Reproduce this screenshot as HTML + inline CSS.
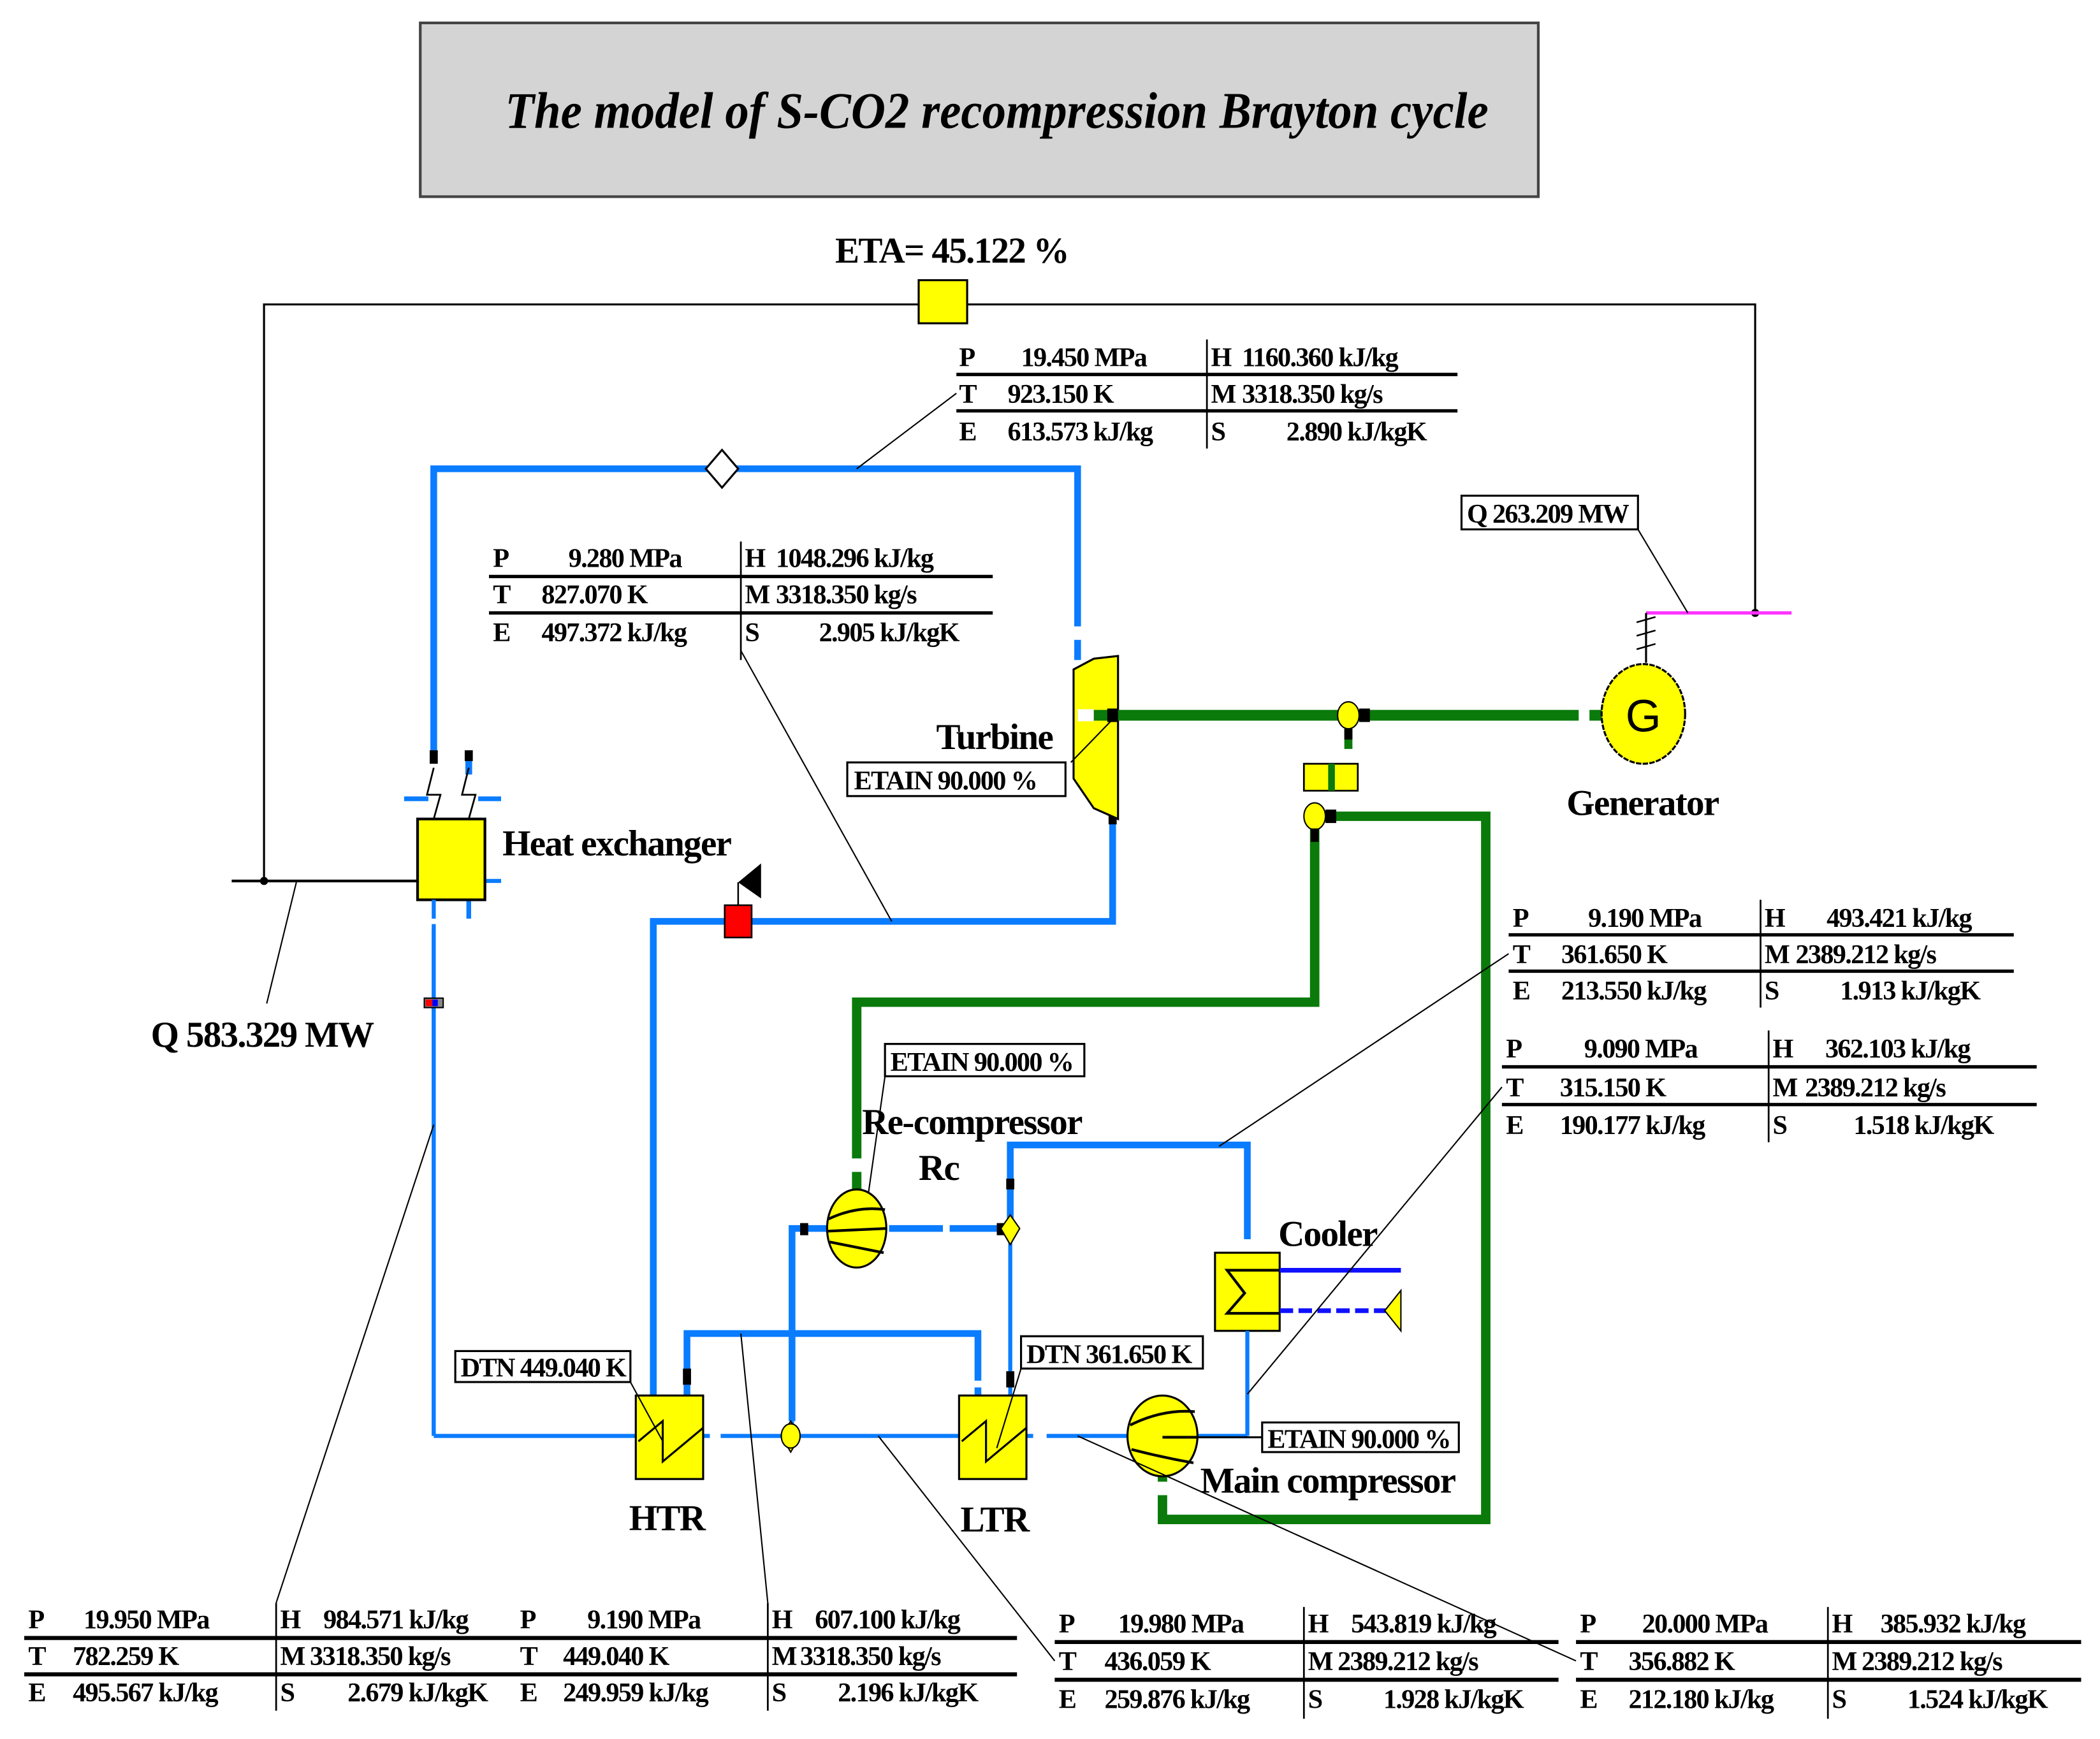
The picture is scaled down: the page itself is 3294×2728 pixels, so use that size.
<!DOCTYPE html>
<html><head><meta charset="utf-8"><style>
html,body{margin:0;padding:0;background:#fff;}
svg{display:block;}
text{font-family:"Liberation Serif",serif;font-weight:bold;fill:#000;}
.t{font-size:20px;letter-spacing:-0.8px;}
.l{font-size:27px;letter-spacing:-0.8px;}
</style></head><body>
<svg width="3294" height="2728" viewBox="0 0 1559 1291" preserveAspectRatio="none" xmlns="http://www.w3.org/2000/svg">
<rect x="0" y="0" width="1559" height="1291" fill="#fff"/>
<!-- title -->
<rect x="312" y="17" width="830" height="129" fill="#d4d4d4" stroke="#444" stroke-width="2"/>
<text x="375" y="95" font-size="38" font-style="italic" textLength="730" lengthAdjust="spacingAndGlyphs">The model of S-CO2 recompression Brayton cycle</text>

<!-- ETA -->
<text x="620" y="195" class="l" font-size="25">ETA= 45.122 %</text>
<polyline points="196,654 196,226 1303,226 1303,455" fill="none" stroke="#000" stroke-width="1.5"/>
<rect x="682" y="208" width="36" height="32" fill="#ffff00" stroke="#000" stroke-width="1.5"/>
<circle cx="196" cy="654" r="3" fill="#000"/>
<circle cx="1303" cy="455" r="3" fill="#000"/>

<!-- magenta -->
<line x1="1222" y1="455" x2="1330" y2="455" stroke="#ff33ff" stroke-width="2.5"/>
<line x1="1222" y1="455" x2="1222" y2="492" stroke="#000" stroke-width="1.5"/>
<path d="M1215,462 l14,-4 M1215,472 l14,-4 M1215,482 l14,-4" stroke="#000" stroke-width="1.2"/>
<rect x="1085" y="368" width="131" height="25" fill="#fff" stroke="#000" stroke-width="1.5"/>
<text x="1089" y="388" class="t">Q 263.209 MW</text>
<line x1="1216" y1="393" x2="1253" y2="455" stroke="#000" stroke-width="1"/>

<!-- blue top loop -->
<g fill="none" stroke="#0a7cff" stroke-width="5">
<polyline points="322,560 322,348 800,348 800,465"/>
<line x1="800" y1="475" x2="800" y2="490"/>
<polyline points="826,608 826,684 485,684 485,1036"/>
<line x1="348" y1="560" x2="348" y2="575"/>
<line x1="300" y1="593" x2="318" y2="593" stroke-width="3.5"/>
<line x1="355" y1="593" x2="372" y2="593" stroke-width="3.5"/>
<line x1="348" y1="668" x2="348" y2="682" stroke-width="3.5"/>
<line x1="360" y1="654" x2="372" y2="654" stroke-width="3"/>
</g>
<rect x="319" y="557" width="6" height="10" fill="#000"/>
<rect x="345" y="557" width="6" height="8" fill="#000"/>
<rect x="823" y="600" width="6" height="12" fill="#000"/>
<polygon points="536,334 548,348 536,362 524,348" fill="#fff" stroke="#000" stroke-width="1.5"/>
<!-- zigzags -->
<path d="M322,570 L317,590 L327,590 L322,608 M348,570 L343,590 L353,590 L348,608" fill="none" stroke="#000" stroke-width="1.3"/>

<!-- heat exchanger -->
<line x1="172" y1="654" x2="310" y2="654" stroke="#000" stroke-width="2"/>
<rect x="310" y="608" width="50" height="60" fill="#ffff00" stroke="#000" stroke-width="2"/>
<text x="373" y="635" class="l">Heat exchanger</text>
<line x1="220" y1="655" x2="198" y2="745" stroke="#000" stroke-width="1"/>
<text x="112" y="777" class="l" font-size="26">Q 583.329 MW</text>
<line x1="322" y1="668" x2="322" y2="1066" stroke="#0a7cff" stroke-width="3" stroke-dasharray="14,4,380"/>
<line x1="322" y1="690" x2="322" y2="1066" stroke="#0a7cff" stroke-width="3"/>
<rect x="315" y="741" width="14" height="7" fill="#888" stroke="#000" stroke-width="1"/>
<rect x="316" y="742" width="5" height="5" fill="#f00"/>
<rect x="321" y="742" width="4" height="5" fill="#00f"/>
<line x1="322" y1="835" x2="205" y2="1190" stroke="#000" stroke-width="1"/>

<!-- table 1 -->
<g class="t">
<text x="712" y="272">P</text><text x="758" y="272">19.450 MPa</text>
<text x="899" y="272">H</text><text x="922" y="272">1160.360 kJ/kg</text>
<text x="712" y="299">T</text><text x="748" y="299">923.150 K</text>
<text x="899" y="299">M</text><text x="922" y="299">3318.350 kg/s</text>
<text x="712" y="327">E</text><text x="748" y="327">613.573 kJ/kg</text>
<text x="899" y="327">S</text><text x="955" y="327">2.890 kJ/kgK</text>
</g>
<g stroke="#000"><line x1="710" y1="278" x2="1082" y2="278" stroke-width="2.5"/><line x1="710" y1="305" x2="1082" y2="305" stroke-width="2.5"/><line x1="896" y1="252" x2="896" y2="333" stroke-width="1.3"/>
<line x1="710" y1="292" x2="636" y2="348" stroke-width="1"/></g>

<!-- table 2 -->
<g class="t">
<text x="366" y="421">P</text><text x="422" y="421">9.280 MPa</text>
<text x="553" y="421">H</text><text x="576" y="421">1048.296 kJ/kg</text>
<text x="366" y="448">T</text><text x="402" y="448">827.070 K</text>
<text x="553" y="448">M</text><text x="576" y="448">3318.350 kg/s</text>
<text x="366" y="476">E</text><text x="402" y="476">497.372 kJ/kg</text>
<text x="553" y="476">S</text><text x="608" y="476">2.905 kJ/kgK</text>
</g>
<g stroke="#000"><line x1="363" y1="428" x2="737" y2="428" stroke-width="2.5"/><line x1="363" y1="455" x2="737" y2="455" stroke-width="2.5"/><line x1="550" y1="402" x2="550" y2="490" stroke-width="1.3"/>
<line x1="550" y1="483" x2="662" y2="684" stroke-width="1"/></g>

<!-- red valve -->
<rect x="538" y="672" width="20" height="24" fill="#f00" stroke="#000" stroke-width="1.2"/>
<line x1="548" y1="672" x2="548" y2="655" stroke="#000" stroke-width="1.2"/>
<polygon points="548,655 565,641 565,667" fill="#000"/>

<!-- turbine -->
<polygon points="797,497 812,489 830,487 830,608 812,600 797,578" fill="#ffff00" stroke="#000" stroke-width="1.5"/>
<line x1="800" y1="531" x2="1172" y2="531" stroke="#0a7a0a" stroke-width="8"/>
<line x1="800" y1="531" x2="812" y2="531" stroke="#fff" stroke-width="9"/>
<rect x="822" y="526" width="8" height="10" fill="#000"/>
<line x1="826" y1="534" x2="795" y2="566" stroke="#000" stroke-width="1"/>
<text x="695" y="556" class="l">Turbine</text>
<rect x="629" y="566" width="162" height="25" fill="#fff" stroke="#000" stroke-width="1.5"/>
<text x="634" y="586" class="t">ETAIN 90.000 %</text>
<line x1="1180" y1="531" x2="1190" y2="531" stroke="#0a7a0a" stroke-width="8"/>
<ellipse cx="1001" cy="531" rx="8" ry="10" fill="#ffff00" stroke="#000" stroke-width="1"/>
<rect x="1009" y="526" width="8" height="10" fill="#000"/>
<line x1="1001" y1="541" x2="1001" y2="556" stroke="#0a7a0a" stroke-width="6"/>
<rect x="998" y="541" width="6" height="8" fill="#000"/>

<!-- generator -->
<ellipse cx="1220" cy="530" rx="31" ry="37" fill="#ffff00" stroke="#000" stroke-width="1.5" stroke-dasharray="4,1"/>
<text x="1220" y="543" text-anchor="middle" font-size="34" style="font-family:'Liberation Sans',sans-serif;font-weight:normal">G</text>
<text x="1163" y="605" class="l">Generator</text>

<!-- coupling box -->
<rect x="968" y="567" width="40" height="20" fill="#ffff00" stroke="#000" stroke-width="1.3"/>
<rect x="986" y="567" width="5" height="20" fill="#0a7a0a"/>

<!-- green lines -->
<g fill="none" stroke="#0a7a0a" stroke-width="7">
<polyline points="976,606 976,744 636,744 636,860"/>
<line x1="636" y1="870" x2="636" y2="885"/>
<polyline points="976,606 1103,606 1103,1128 863,1128 863,1110"/>
<line x1="863" y1="1090" x2="863" y2="1100"/>
</g>
<ellipse cx="976" cy="606" rx="8" ry="10" fill="#ffff00" stroke="#000" stroke-width="1"/>
<rect x="984" y="601" width="8" height="10" fill="#000"/>
<rect x="973" y="615" width="6" height="10" fill="#000"/>

<!-- recompressor -->
<rect x="657" y="775" width="148" height="24" fill="#fff" stroke="#000" stroke-width="1.5"/>
<text x="661" y="795" class="t">ETAIN 90.000 %</text>
<line x1="657" y1="799" x2="641" y2="912" stroke="#000" stroke-width="1"/>
<text x="640" y="842" class="l">Re-compressor</text>
<text x="682" y="876" class="l">Rc</text>

<g fill="none" stroke="#0a7cff" stroke-width="5">
<polyline points="588,1055 588,912 614,912"/>
<line x1="660" y1="912" x2="700" y2="912"/>
<line x1="705" y1="912" x2="745" y2="912"/>
<polyline points="750,905 750,850 926,850 926,920"/>
<polyline points="510,1036 510,990 726,990 726,1025"/>
<line x1="726" y1="1030" x2="726" y2="1036"/>
</g>
<line x1="750" y1="920" x2="750" y2="1036" stroke="#0a7cff" stroke-width="3"/>
<line x1="588" y1="1055" x2="588" y2="1066" stroke="#0a7cff" stroke-width="3"/>
<rect x="594" y="908" width="6" height="9" fill="#000"/>
<rect x="740" y="908" width="6" height="9" fill="#000"/>
<rect x="747" y="1018" width="6" height="12" fill="#000"/>
<rect x="507" y="1016" width="6" height="12" fill="#000"/>
<rect x="747" y="875" width="6" height="8" fill="#000"/>
<polygon points="750,902 757,912 750,924 743,912" fill="#ffff00" stroke="#000" stroke-width="1"/>
<ellipse cx="636" cy="912" rx="22" ry="29" fill="#ffff00" stroke="#000" stroke-width="1.5"/>
<path d="M615,905 Q636,895 657,898 M614,914 L658,912 M616,922 Q636,926 656,930" fill="none" stroke="#000" stroke-width="2"/>

<!-- cooler -->
<rect x="902" y="930" width="48" height="58" fill="#ffff00" stroke="#000" stroke-width="1.5"/>
<path d="M950,943 L911,943 L924,960 L911,975 L950,975" fill="none" stroke="#000" stroke-width="2"/>
<line x1="950" y1="943" x2="1040" y2="943" stroke="#1010ff" stroke-width="3.5"/>
<line x1="950" y1="973" x2="1030" y2="973" stroke="#1010ff" stroke-width="3.5" stroke-dasharray="10,4"/>
<polygon points="1028,973 1040,958 1040,988" fill="#ffff00" stroke="#000" stroke-width="1"/>
<text x="949" y="925" class="l">Cooler</text>
<line x1="926" y1="988" x2="926" y2="1066" stroke="#0a7cff" stroke-width="3"/>

<!-- bottom line -->
<line x1="322" y1="1066" x2="926" y2="1066" stroke="#0a7cff" stroke-width="3"/>
<line x1="527" y1="1066" x2="535" y2="1066" stroke="#fff" stroke-width="4"/>
<line x1="767" y1="1066" x2="777" y2="1066" stroke="#fff" stroke-width="4"/>
<polygon points="587,1055 594,1066 587,1078 580,1066" fill="#ffff00" stroke="#000" stroke-width="1"/>
<ellipse cx="587" cy="1066" rx="7" ry="9" fill="#ffff00" stroke="#000" stroke-width="1"/>

<!-- HTR -->
<rect x="472" y="1036" width="50" height="62" fill="#ffff00" stroke="#000" stroke-width="1.5"/>
<path d="M474,1070 L492,1055 L492,1085 L522,1060" fill="none" stroke="#000" stroke-width="1.5"/>
<text x="467" y="1136" class="l">HTR</text>
<rect x="338" y="1003" width="130" height="23" fill="#fff" stroke="#000" stroke-width="1.5"/>
<text x="342" y="1022" class="t">DTN 449.040 K</text>
<line x1="468" y1="1026" x2="492" y2="1070" stroke="#000" stroke-width="1"/>
<!-- LTR -->
<rect x="712" y="1036" width="50" height="62" fill="#ffff00" stroke="#000" stroke-width="1.5"/>
<path d="M714,1070 L732,1055 L732,1085 L762,1060" fill="none" stroke="#000" stroke-width="1.5"/>
<text x="713" y="1137" class="l">LTR</text>
<rect x="758" y="992" width="135" height="24" fill="#fff" stroke="#000" stroke-width="1.5"/>
<text x="762" y="1012" class="t">DTN 361.650 K</text>
<line x1="758" y1="1016" x2="740" y2="1075" stroke="#000" stroke-width="1"/>

<!-- main compressor -->
<ellipse cx="863" cy="1066" rx="26" ry="30" fill="#ffff00" stroke="#000" stroke-width="1.5"/>
<path d="M839,1058 Q863,1046 887,1048 M863,1067 L889,1067 M840,1076 Q863,1082 886,1086" fill="none" stroke="#000" stroke-width="2"/>
<line x1="889" y1="1067" x2="937" y2="1067" stroke="#000" stroke-width="1.5"/>
<rect x="937" y="1056" width="146" height="22" fill="#fff" stroke="#000" stroke-width="1.5"/>
<text x="941" y="1075" class="t">ETAIN 90.000 %</text>
<text x="891" y="1108" class="l">Main compressor</text>

<!-- right tables -->
<g class="t">
<text x="1123" y="688">P</text><text x="1179" y="688">9.190 MPa</text>
<text x="1310" y="688">H</text><text x="1356" y="688">493.421 kJ/kg</text>
<text x="1123" y="715">T</text><text x="1159" y="715">361.650 K</text>
<text x="1310" y="715">M</text><text x="1333" y="715">2389.212 kg/s</text>
<text x="1123" y="742">E</text><text x="1159" y="742">213.550 kJ/kg</text>
<text x="1310" y="742">S</text><text x="1366" y="742">1.913 kJ/kgK</text>

<text x="1118" y="785">P</text><text x="1176" y="785">9.090 MPa</text>
<text x="1316" y="785">H</text><text x="1355" y="785">362.103 kJ/kg</text>
<text x="1118" y="814">T</text><text x="1158" y="814">315.150 K</text>
<text x="1316" y="814">M</text><text x="1340" y="814">2389.212 kg/s</text>
<text x="1118" y="842">E</text><text x="1158" y="842">190.177 kJ/kg</text>
<text x="1316" y="842">S</text><text x="1376" y="842">1.518 kJ/kgK</text>
</g>
<g stroke="#000">
<line x1="1120" y1="694" x2="1495" y2="694" stroke-width="2.5"/><line x1="1120" y1="721" x2="1495" y2="721" stroke-width="2.5"/><line x1="1307" y1="668" x2="1307" y2="748" stroke-width="1.3"/>
<line x1="1120" y1="708" x2="905" y2="851" stroke-width="1"/>
<line x1="1115" y1="792" x2="1512" y2="792" stroke-width="2.5"/><line x1="1115" y1="820" x2="1512" y2="820" stroke-width="2.5"/><line x1="1313" y1="765" x2="1313" y2="848" stroke-width="1.3"/>
<line x1="1115" y1="807" x2="926" y2="1035" stroke-width="1"/>
</g>

<!-- bottom tables -->
<g class="t" font-size="19">
<text x="21" y="1209">P</text><text x="62" y="1209">19.950 MPa</text>
<text x="208" y="1209">H</text><text x="240" y="1209">984.571 kJ/kg</text>
<text x="21" y="1236">T</text><text x="54" y="1236">782.259 K</text>
<text x="208" y="1236">M</text><text x="230" y="1236">3318.350 kg/s</text>
<text x="21" y="1263">E</text><text x="54" y="1263">495.567 kJ/kg</text>
<text x="208" y="1263">S</text><text x="258" y="1263">2.679 kJ/kgK</text>

<text x="386" y="1209">P</text><text x="436" y="1209">9.190 MPa</text>
<text x="573" y="1209">H</text><text x="605" y="1209">607.100 kJ/kg</text>
<text x="386" y="1236">T</text><text x="418" y="1236">449.040 K</text>
<text x="573" y="1236">M</text><text x="594" y="1236">3318.350 kg/s</text>
<text x="386" y="1263">E</text><text x="418" y="1263">249.959 kJ/kg</text>
<text x="573" y="1263">S</text><text x="622" y="1263">2.196 kJ/kgK</text>

<text x="786" y="1212">P</text><text x="830" y="1212">19.980 MPa</text>
<text x="971" y="1212">H</text><text x="1003" y="1212">543.819 kJ/kg</text>
<text x="786" y="1240">T</text><text x="820" y="1240">436.059 K</text>
<text x="971" y="1240">M</text><text x="993" y="1240">2389.212 kg/s</text>
<text x="786" y="1268">E</text><text x="820" y="1268">259.876 kJ/kg</text>
<text x="971" y="1268">S</text><text x="1027" y="1268">1.928 kJ/kgK</text>

<text x="1173" y="1212">P</text><text x="1219" y="1212">20.000 MPa</text>
<text x="1360" y="1212">H</text><text x="1396" y="1212">385.932 kJ/kg</text>
<text x="1173" y="1240">T</text><text x="1209" y="1240">356.882 K</text>
<text x="1360" y="1240">M</text><text x="1382" y="1240">2389.212 kg/s</text>
<text x="1173" y="1268">E</text><text x="1209" y="1268">212.180 kJ/kg</text>
<text x="1360" y="1268">S</text><text x="1416" y="1268">1.524 kJ/kgK</text>
</g>
<g stroke="#000">
<line x1="18" y1="1216" x2="755" y2="1216" stroke-width="3"/><line x1="18" y1="1243" x2="755" y2="1243" stroke-width="3"/>
<line x1="205" y1="1190" x2="205" y2="1270" stroke-width="1.3"/><line x1="570" y1="1190" x2="570" y2="1270" stroke-width="1.3"/>
<line x1="550" y1="990" x2="570" y2="1190" stroke-width="1"/>
<line x1="783" y1="1219" x2="1157" y2="1219" stroke-width="3"/><line x1="783" y1="1247" x2="1157" y2="1247" stroke-width="3"/>
<line x1="1170" y1="1219" x2="1545" y2="1219" stroke-width="3"/><line x1="1170" y1="1247" x2="1545" y2="1247" stroke-width="3"/>
<line x1="968" y1="1193" x2="968" y2="1276" stroke-width="1.3"/><line x1="1357" y1="1193" x2="1357" y2="1276" stroke-width="1.3"/>
<line x1="652" y1="1066" x2="783" y2="1233" stroke-width="1"/>
<line x1="800" y1="1066" x2="1170" y2="1233" stroke-width="1"/>
</g>
</svg>
</body></html>
